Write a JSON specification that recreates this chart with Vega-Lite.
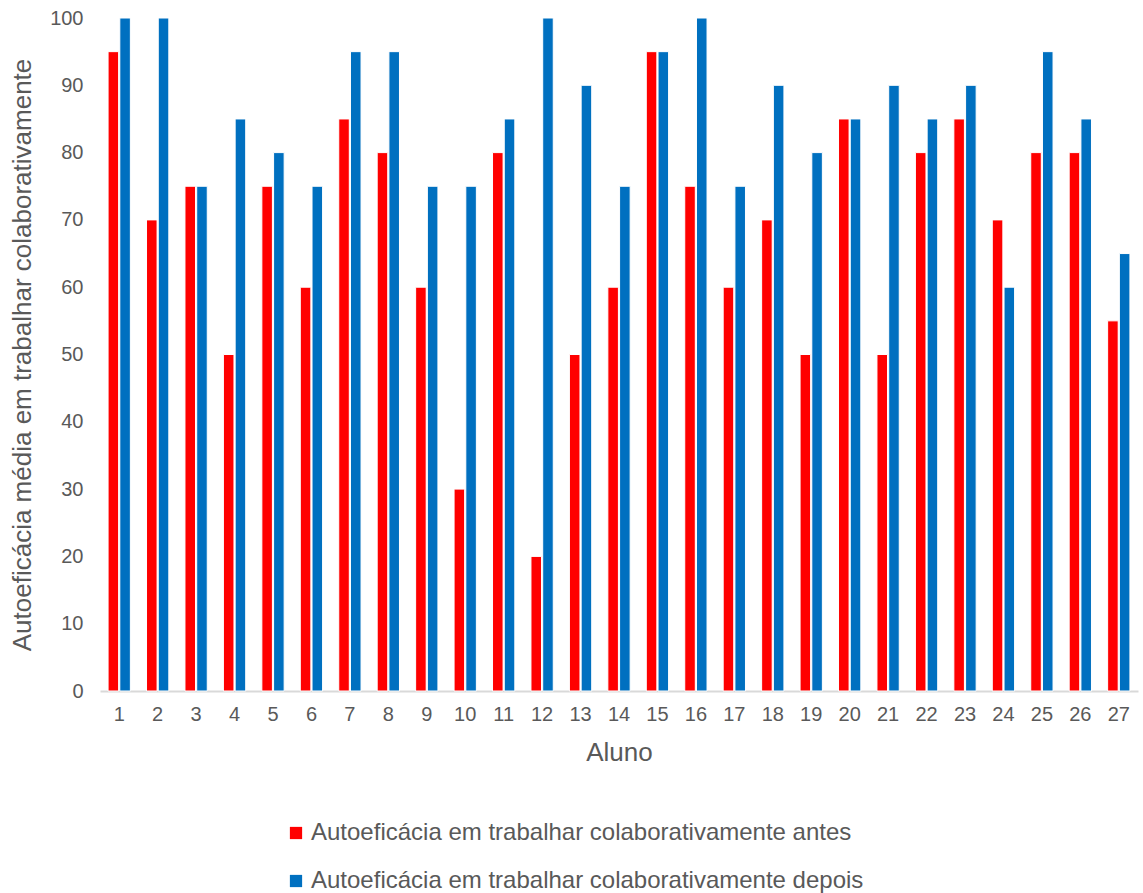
{
  "$schema": "https://vega.github.io/schema/vega-lite/v6.json",
  "autosize": {"type": "none"},
  "padding": {"left": 100, "top": 18, "right": 5, "bottom": 202},
  "width": 1038,
  "height": 673,
  "background": "white",
  "config": {
    "font": "Liberation Sans",
    "view": {"stroke": null}
  },
  "data": {
    "values": [
      {"aluno": 1, "serie": "Autoeficácia em trabalhar colaborativamente antes", "valor": 95},
      {"aluno": 1, "serie": "Autoeficácia em trabalhar colaborativamente depois", "valor": 100},
      {"aluno": 2, "serie": "Autoeficácia em trabalhar colaborativamente antes", "valor": 70},
      {"aluno": 2, "serie": "Autoeficácia em trabalhar colaborativamente depois", "valor": 100},
      {"aluno": 3, "serie": "Autoeficácia em trabalhar colaborativamente antes", "valor": 75},
      {"aluno": 3, "serie": "Autoeficácia em trabalhar colaborativamente depois", "valor": 75},
      {"aluno": 4, "serie": "Autoeficácia em trabalhar colaborativamente antes", "valor": 50},
      {"aluno": 4, "serie": "Autoeficácia em trabalhar colaborativamente depois", "valor": 85},
      {"aluno": 5, "serie": "Autoeficácia em trabalhar colaborativamente antes", "valor": 75},
      {"aluno": 5, "serie": "Autoeficácia em trabalhar colaborativamente depois", "valor": 80},
      {"aluno": 6, "serie": "Autoeficácia em trabalhar colaborativamente antes", "valor": 60},
      {"aluno": 6, "serie": "Autoeficácia em trabalhar colaborativamente depois", "valor": 75},
      {"aluno": 7, "serie": "Autoeficácia em trabalhar colaborativamente antes", "valor": 85},
      {"aluno": 7, "serie": "Autoeficácia em trabalhar colaborativamente depois", "valor": 95},
      {"aluno": 8, "serie": "Autoeficácia em trabalhar colaborativamente antes", "valor": 80},
      {"aluno": 8, "serie": "Autoeficácia em trabalhar colaborativamente depois", "valor": 95},
      {"aluno": 9, "serie": "Autoeficácia em trabalhar colaborativamente antes", "valor": 60},
      {"aluno": 9, "serie": "Autoeficácia em trabalhar colaborativamente depois", "valor": 75},
      {"aluno": 10, "serie": "Autoeficácia em trabalhar colaborativamente antes", "valor": 30},
      {"aluno": 10, "serie": "Autoeficácia em trabalhar colaborativamente depois", "valor": 75},
      {"aluno": 11, "serie": "Autoeficácia em trabalhar colaborativamente antes", "valor": 80},
      {"aluno": 11, "serie": "Autoeficácia em trabalhar colaborativamente depois", "valor": 85},
      {"aluno": 12, "serie": "Autoeficácia em trabalhar colaborativamente antes", "valor": 20},
      {"aluno": 12, "serie": "Autoeficácia em trabalhar colaborativamente depois", "valor": 100},
      {"aluno": 13, "serie": "Autoeficácia em trabalhar colaborativamente antes", "valor": 50},
      {"aluno": 13, "serie": "Autoeficácia em trabalhar colaborativamente depois", "valor": 90},
      {"aluno": 14, "serie": "Autoeficácia em trabalhar colaborativamente antes", "valor": 60},
      {"aluno": 14, "serie": "Autoeficácia em trabalhar colaborativamente depois", "valor": 75},
      {"aluno": 15, "serie": "Autoeficácia em trabalhar colaborativamente antes", "valor": 95},
      {"aluno": 15, "serie": "Autoeficácia em trabalhar colaborativamente depois", "valor": 95},
      {"aluno": 16, "serie": "Autoeficácia em trabalhar colaborativamente antes", "valor": 75},
      {"aluno": 16, "serie": "Autoeficácia em trabalhar colaborativamente depois", "valor": 100},
      {"aluno": 17, "serie": "Autoeficácia em trabalhar colaborativamente antes", "valor": 60},
      {"aluno": 17, "serie": "Autoeficácia em trabalhar colaborativamente depois", "valor": 75},
      {"aluno": 18, "serie": "Autoeficácia em trabalhar colaborativamente antes", "valor": 70},
      {"aluno": 18, "serie": "Autoeficácia em trabalhar colaborativamente depois", "valor": 90},
      {"aluno": 19, "serie": "Autoeficácia em trabalhar colaborativamente antes", "valor": 50},
      {"aluno": 19, "serie": "Autoeficácia em trabalhar colaborativamente depois", "valor": 80},
      {"aluno": 20, "serie": "Autoeficácia em trabalhar colaborativamente antes", "valor": 85},
      {"aluno": 20, "serie": "Autoeficácia em trabalhar colaborativamente depois", "valor": 85},
      {"aluno": 21, "serie": "Autoeficácia em trabalhar colaborativamente antes", "valor": 50},
      {"aluno": 21, "serie": "Autoeficácia em trabalhar colaborativamente depois", "valor": 90},
      {"aluno": 22, "serie": "Autoeficácia em trabalhar colaborativamente antes", "valor": 80},
      {"aluno": 22, "serie": "Autoeficácia em trabalhar colaborativamente depois", "valor": 85},
      {"aluno": 23, "serie": "Autoeficácia em trabalhar colaborativamente antes", "valor": 85},
      {"aluno": 23, "serie": "Autoeficácia em trabalhar colaborativamente depois", "valor": 90},
      {"aluno": 24, "serie": "Autoeficácia em trabalhar colaborativamente antes", "valor": 70},
      {"aluno": 24, "serie": "Autoeficácia em trabalhar colaborativamente depois", "valor": 60},
      {"aluno": 25, "serie": "Autoeficácia em trabalhar colaborativamente antes", "valor": 80},
      {"aluno": 25, "serie": "Autoeficácia em trabalhar colaborativamente depois", "valor": 95},
      {"aluno": 26, "serie": "Autoeficácia em trabalhar colaborativamente antes", "valor": 80},
      {"aluno": 26, "serie": "Autoeficácia em trabalhar colaborativamente depois", "valor": 85},
      {"aluno": 27, "serie": "Autoeficácia em trabalhar colaborativamente antes", "valor": 55},
      {"aluno": 27, "serie": "Autoeficácia em trabalhar colaborativamente depois", "valor": 65}
    ]
  },
  "mark": {"type": "bar", "stroke": "white", "strokeWidth": 1},
  "encoding": {
    "x": {
      "field": "aluno",
      "type": "ordinal",
      "scale": {"paddingInner": 0.42, "paddingOuter": 0.21},
      "axis": {
        "title": "Aluno",
        "titleFontSize": 26,
        "titleFontWeight": "normal",
        "titleColor": "#595959",
        "titlePadding": 15,
        "labelAngle": 0,
        "labelFontSize": 20,
        "labelColor": "#595959",
        "labelPadding": 13,
        "ticks": false,
        "domainColor": "#d9d9d9",
        "domainWidth": 2
      }
    },
    "xOffset": {
      "field": "serie",
      "type": "nominal",
      "scale": {"paddingInner": 0.1}
    },
    "y": {
      "field": "valor",
      "type": "quantitative",
      "scale": {"domain": [0, 100], "nice": false},
      "axis": {
        "title": "Autoeficácia média em trabalhar colaborativamente",
        "titleFontSize": 26,
        "titleFontWeight": "normal",
        "titleColor": "#595959",
        "titlePadding": 14,
        "values": [0, 10, 20, 30, 40, 50, 60, 70, 80, 90, 100],
        "labelFontSize": 20,
        "labelColor": "#595959",
        "labelPadding": 17,
        "ticks": false,
        "domain": false,
        "grid": false
      }
    },
    "color": {
      "field": "serie",
      "type": "nominal",
      "scale": {"range": ["#ff0000", "#0070c0"]},
      "legend": {
        "title": null,
        "orient": "none",
        "legendX": 184,
        "legendY": 803,
        "direction": "vertical",
        "symbolType": "square",
        "symbolSize": 150,
        "symbolStrokeWidth": 0,
        "labelFontSize": 24,
        "labelColor": "#595959",
        "labelOffset": 3,
        "labelLimit": 0,
        "rowPadding": 24
      }
    }
  }
}
